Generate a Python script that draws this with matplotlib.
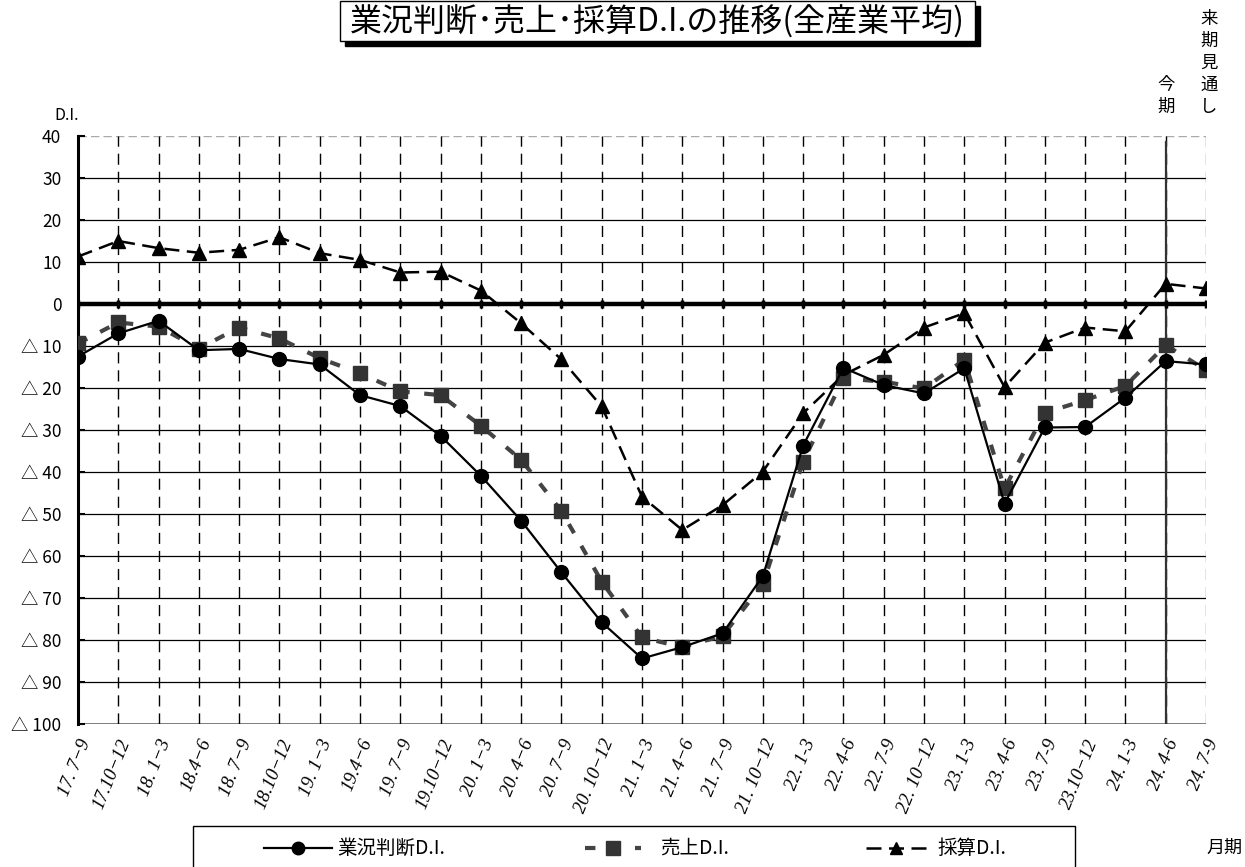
import matplotlib
matplotlib.use("Agg")
import matplotlib.pyplot as plt
from matplotlib.patches import Rectangle
from matplotlib.lines import Line2D

plt.rcParams['font.family'] = ['Noto Sans CJK JP', 'DejaVu Sans']

# 四半期ラベル
periods = ["17. 7−9", "17.10−12", "18. 1−3", "18.4−6", "18. 7−9", "18.10−12",
           "19. 1−3", "19.4−6", "19. 7−9", "19.10−12", "20. 1−3", "20. 4−6",
           "20. 7−9", "20. 10−12", "21. 1−3", "21. 4−6", "21. 7−9", "21. 10−12",
           "22. 1-3", "22. 4-6", "22. 7-9", "22. 10−12", "23. 1-3", "23. 4-6",
           "23. 7-9", "23.10−12", "24. 1-3", "24. 4-6", "24. 7-9"]

# 業況判断D.I.
business = [-12.5, -7.0, -4.0, -11.0, -10.7, -13.1, -14.4, -21.7, -24.3, -31.4,
            -40.9, -51.6, -63.9, -75.8, -84.4, -81.7, -78.4, -64.8, -33.7, -15.2,
            -19.3, -21.3, -15.3, -47.5, -29.4, -29.3, -22.3, -13.6, -14.4]
# 売上D.I.
sales = [-9.4, -4.4, -5.4, -10.6, -5.6, -8.2, -12.9, -16.5, -20.8, -21.7,
         -29.0, -37.1, -49.3, -66.1, -79.4, -81.7, -79.0, -66.7, -37.5, -17.7,
         -18.5, -20.1, -13.3, -43.9, -25.9, -22.9, -19.5, -9.8, -15.7]
# 採算D.I.
profit = [11.3, 15.0, 13.3, 12.2, 12.9, 15.9, 12.1, 10.5, 7.5, 7.7,
          3.2, -4.6, -13.2, -24.4, -45.9, -53.8, -47.9, -39.9, -26.0, -16.9,
          -12.1, -5.6, -2.2, -19.8, -9.2, -5.6, -6.5, 4.8, 3.7]

y_ticks = [40, 30, 20, 10, 0, -10, -20, -30, -40, -50, -60, -70, -80, -90, -100]
current_idx = 27  # 今期 (24. 4-6)

W, H = 1245, 867
fig = plt.figure(figsize=(W / 100, H / 100), dpi=100)
ax = fig.add_axes([78 / W, 1 - 724 / H, (1206 - 78) / W, (724 - 136) / H])

xs = list(range(len(periods)))
ax.set_xlim(0, len(periods) - 1)
ax.set_ylim(-100, 40)

# 横グリッド
for v in y_ticks:
    if v in (0, 40, -100):
        continue
    ax.axhline(v, color='black', lw=0.9, zorder=1)
ax.axhline(-100, color='#666666', lw=1.2, zorder=1)
ax.axhline(40, color='#aaaaaa', lw=1.0, ls=(0, (6, 3)), zorder=1)
ax.axhline(0, color='black', lw=3.2, zorder=2)
ax.plot(xs, [0] * len(xs), ls='none', marker='|', ms=6, mew=2.5, color='black', zorder=2)

# 縦グリッド（破線）
for i in xs[1:]:
    c = '#777777' if i == xs[-1] else 'black'
    ax.axvline(i, color=c, lw=1.0, ls=(0, (8, 5)), zorder=1)
ax.axvline(current_idx, ymax=0.99, color='#333333', lw=1.6, zorder=1)

for s in ['top', 'right', 'bottom']:
    ax.spines[s].set_visible(False)
ax.spines['left'].set_linewidth(2.2)

ax.set_yticks(y_ticks)
ax.set_yticklabels([str(v) if v >= 0 else f"△ {-v}" for v in y_ticks], fontsize=12.5)
ax.tick_params(axis='y', direction='in', length=5, width=1.5, pad=12)

ax.set_xticks(xs)
ax.set_xticklabels(periods, rotation=68, ha='right', va='top', rotation_mode='anchor',
                   fontsize=13.5, fontstyle='italic', family=['Liberation Serif'])
ax.tick_params(axis='x', length=0, pad=9)

# 系列
ax.plot(xs, profit, color='black', lw=1.8, ls=(0, (6, 3)), marker='^', ms=10,
        mfc='black', mec='black', zorder=4)
ax.plot(xs, sales, color='#444444', lw=3.0, ls=(0, (2.5, 3.5)), marker='s', ms=10,
        mfc='#333333', mec='#333333', zorder=5)
ax.plot(xs, business, color='black', lw=1.6, ls='-', marker='o', ms=10,
        mfc='black', mec='black', zorder=6)

# 注記用のオーバーレイ
ov = fig.add_axes([0, 0, 1, 1], zorder=10)
ov.set_xlim(0, W)
ov.set_ylim(H, 0)
ov.axis('off')
ov.patch.set_alpha(0)

# タイトル（影付き枠）
ov.add_patch(Rectangle((345, 6), 635, 40, facecolor='black', edgecolor='black'))
ov.add_patch(Rectangle((340, 1), 635, 40, facecolor='white', edgecolor='black', lw=1.0))
ov.text(657, 22, "業況判断･売上･採算D.I.の推移(全産業平均)", fontsize=23,
        ha='center', va='center')

ov.text(67, 116, "D.I.", fontsize=11.5, ha='center', va='center')
ov.text(1166, 96, "今\n期", fontsize=12.5, ha='center', va='center', linespacing=1.27)
ov.text(1209, 63, "来\n期\n見\n通\nし", fontsize=12.5, ha='center', va='center',
        linespacing=1.27)
ov.text(1224, 848, "月期", fontsize=13, ha='center', va='center')

# 凡例
ov.add_patch(Rectangle((193, 826), 882, 60, facecolor='white', edgecolor='black',
                       lw=1.0, clip_on=False))
legend_items = [
    (264, 68, 337, "業況判断D.I.", dict(color='black', lw=1.6, ls='-', marker='o', ms=9,
                                     mfc='black', mec='black')),
    (585, 56, 660, "売上D.I.", dict(color='#444444', lw=3.0, ls=(0, (2.5, 3.5)),
                                  marker='s', ms=10, mfc='#333333', mec='#333333')),
    (866, 60, 937, "採算D.I.", dict(color='black', lw=1.8, ls=(0, (6, 3)), marker='^',
                                  ms=9, mfc='black', mec='black')),
]
for x0, span, tx, label, style in legend_items:
    ov.add_line(Line2D([x0, x0 + span / 2, x0 + span], [848, 848, 848],
                       markevery=[1], **style))
    ov.text(tx, 848, label, fontsize=14, ha='left', va='center')

fig.savefig("out.png", dpi=100)
